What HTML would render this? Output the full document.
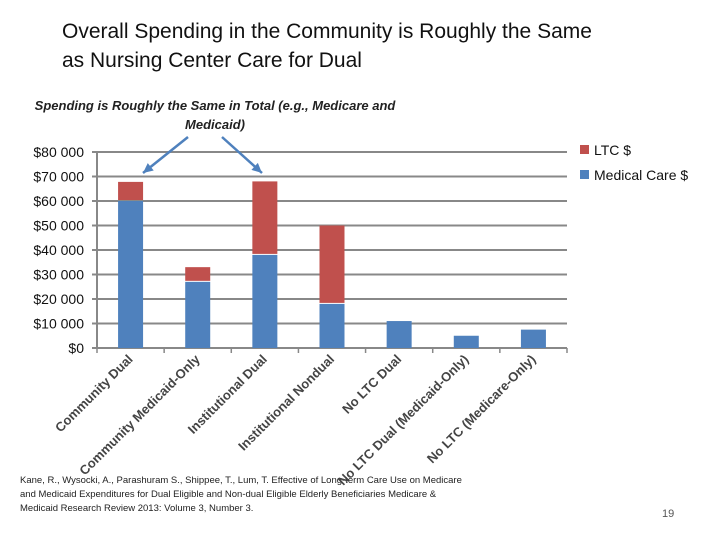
<!DOCTYPE html>
<html><head><meta charset="utf-8"><style>
body{margin:0;width:720px;height:540px;background:#fff;font-family:"Liberation Sans",sans-serif;overflow:hidden;position:relative}
.t{position:absolute;color:#222}
</style></head><body>
<div class="t" style="left:62px;top:17px;font-size:21px;line-height:29px;color:#111">Overall Spending in the Community is Roughly the Same<br>as Nursing Center Care for Dual</div>
<div class="t" style="left:20px;top:96px;width:390px;text-align:center;font-size:13px;line-height:19px;font-style:italic;font-weight:bold">Spending is Roughly the Same in Total (e.g., Medicare and Medicaid)</div>
<div class="t" style="left:20px;top:474px;font-size:9.5px;line-height:14px">Kane, R., Wysocki, A., Parashuram S., Shippee, T., Lum, T. Effective of Long-term Care Use on Medicare<br>and Medicaid Expenditures for Dual Eligible and Non-dual Eligible Elderly Beneficiaries Medicare &amp;<br>Medicaid Research Review 2013: Volume 3, Number 3.</div>
<div class="t" style="left:662px;top:508px;font-size:11px;color:#555">19</div>
<svg id="c" width="720" height="540" style="position:absolute;left:0;top:0"></svg>
<script>
const categories=["Community Dual","Community Medicaid-Only","Institutional Dual","Institutional Nondual","No LTC Dual","No LTC Dual (Medicaid-Only)","No LTC (Medicare-Only)"];
const medical=[60000,27000,38000,18000,11000,5000,7500];
const ltc=[7800,6000,30000,32000,0,0,0];
const ticks=[0,10000,20000,30000,40000,50000,60000,70000,80000];
const tickLabels=["$0","$10 000","$20 000","$30 000","$40 000","$50 000","$60 000","$70 000","$80 000"];
const svg=document.getElementById('c');const NS="http://www.w3.org/2000/svg";
const x0=97,x1=567,y0=348,yTop=152,maxV=80000;
const y=v=>y0-(v/maxV)*(y0-yTop);
const bw=(x1-x0)/categories.length;
const xc=i=>x0+bw*(i+0.5);
function mk(t,a,p){const e=document.createElementNS(NS,t);for(const k in a)e.setAttribute(k,a[k]);(p||svg).appendChild(e);return e;}
ticks.forEach((v,i)=>{
 const g=mk('line',{x1:x0-5,x2:x1,y1:y(v),y2:y(v),stroke:'#888','stroke-width':2});
 
 
 const t=mk('text',{x:84,y:y(v)+5,'text-anchor':'end','font-size':14,fill:'#111'});
 t.textContent=tickLabels[i];
 
 
});
mk('line',{x1:x0,x2:x0,y1:yTop,y2:y0,stroke:'#888','stroke-width':2});
for(let i=0;i<=categories.length;i++){mk('line',{x1:x0+bw*i,x2:x0+bw*i,y1:y0,y2:y0+5,stroke:'#888','stroke-width':1.5});}
categories.forEach((c,i)=>{
 const cx=xc(i);
 const r1=mk('rect',{x:cx-12.5,y:y(medical[i]),width:25,height:y0-y(medical[i]),fill:'#4f81bd'});
 
 
 if(ltc[i]>0){
  const r2=mk('rect',{x:cx-12.5,y:y(medical[i]+ltc[i]),width:25,height:y(medical[i])-y(medical[i]+ltc[i])-1,fill:'#c0504d'});
  
  
 }
 const t=mk('text',{x:cx+3,y:y0+12,'text-anchor':'end','font-size':13,'font-weight':'bold',fill:'#444',transform:`rotate(-45 ${cx+3} ${y0+12})`});
 t.textContent=c;
 
 
});
[[188,137,143,173],[222,137,262,173]].forEach(a=>{
 const l=mk('line',{x1:a[0],y1:a[1],x2:a[2],y2:a[3],stroke:'#4f81bd','stroke-width':2.5});
 
 
 const ang=Math.atan2(a[3]-a[1],a[2]-a[0]),L=11;
 const p=[[a[2],a[3]],[a[2]-L*Math.cos(ang-0.45),a[3]-L*Math.sin(ang-0.45)],[a[2]-L*Math.cos(ang+0.45),a[3]-L*Math.sin(ang+0.45)]];
 mk('polygon',{points:p.map(q=>q.join(',')).join(' '),fill:'#4f81bd'});
});
[["LTC $",'#c0504d',150],["Medical Care $",'#4f81bd',175]].forEach(l=>{
 const r=mk('rect',{x:580,y:l[2]-5,width:9,height:9,fill:l[1]});
 
 
 const t=mk('text',{x:594,y:l[2]+5,'font-size':14,fill:'#111'});
 t.textContent=l[0];
 
 
});
</script>
</body></html>
